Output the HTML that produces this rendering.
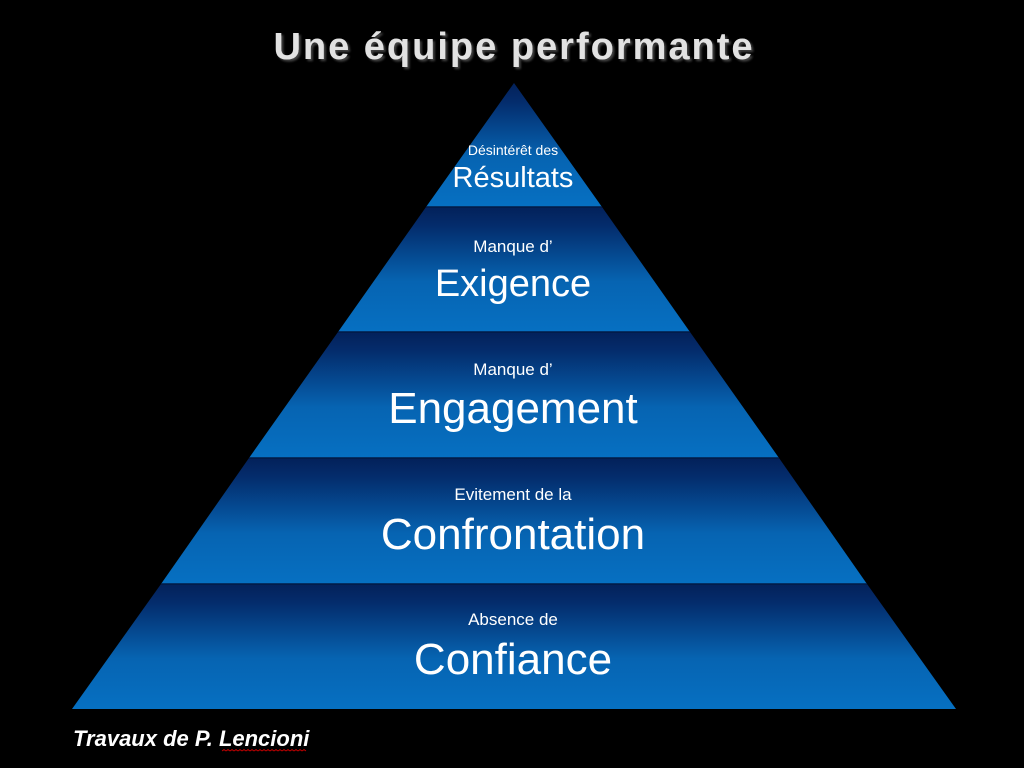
<!DOCTYPE html>
<html><head><meta charset="utf-8"><style>
html,body{margin:0;padding:0;background:#000;}
svg{display:block}
</style></head><body>
<svg width="1024" height="768" viewBox="0 0 1024 768" xmlns="http://www.w3.org/2000/svg">
<defs>
<linearGradient id="g" x1="0" y1="0" x2="0" y2="1">
<stop offset="0" stop-color="#03215a"/>
<stop offset="0.15" stop-color="#042c6c"/>
<stop offset="0.6" stop-color="#0664b2"/>
<stop offset="1" stop-color="#0670c2"/>
</linearGradient>
<filter id="sh"><feDropShadow dx="2" dy="2" stdDeviation="1" flood-color="#444"/></filter>
</defs>
<rect width="1024" height="768" fill="#000"/>
<text x="514" y="59" text-anchor="middle" font-family="Liberation Sans, sans-serif" font-weight="bold" font-size="38" letter-spacing="2" fill="#e2e2e2" filter="url(#sh)">Une équipe performante</text>
<polygon points="514,83 602,207 426,207" fill="url(#g)"/>
<polygon points="426,207 602,207 690,332 338,332" fill="url(#g)"/>
<polygon points="338,332 690,332 779,458 249,458" fill="url(#g)"/>
<polygon points="249,458 779,458 867,584 161,584" fill="url(#g)"/>
<polygon points="161,584 867,584 956,709 72,709" fill="url(#g)"/>
<g stroke="#021a45" stroke-width="1.5">
<line x1="426" y1="207" x2="602" y2="207"/>
<line x1="338" y1="332" x2="690" y2="332"/>
<line x1="249" y1="458" x2="779" y2="458"/>
<line x1="161" y1="584" x2="867" y2="584"/>
</g>
<g font-family="Liberation Sans, sans-serif" fill="#fff" text-anchor="middle">
<text x="513" y="155" font-size="14">Désintérêt des</text>
<text x="513" y="187" font-size="29">Résultats</text>
<text x="513" y="252" font-size="17">Manque d’</text>
<text x="513" y="296" font-size="38">Exigence</text>
<text x="513" y="375" font-size="17">Manque d’</text>
<text x="513" y="423" font-size="44">Engagement</text>
<text x="513" y="500" font-size="17">Evitement de la</text>
<text x="513" y="549" font-size="44">Confrontation</text>
<text x="513" y="625" font-size="17">Absence de</text>
<text x="513" y="674" font-size="44">Confiance</text>
</g>
<text x="73" y="746" font-family="Liberation Sans, sans-serif" font-weight="bold" font-style="italic" font-size="22" fill="#fff">Travaux de P. Lencioni</text>
<path d="M222 751 l2 -1.5 l2 1.5 l2 -1.5 l2 1.5 l2 -1.5 l2 1.5 l2 -1.5 l2 1.5 l2 -1.5 l2 1.5 l2 -1.5 l2 1.5 l2 -1.5 l2 1.5 l2 -1.5 l2 1.5 l2 -1.5 l2 1.5 l2 -1.5 l2 1.5 l2 -1.5 l2 1.5 l2 -1.5 l2 1.5 l2 -1.5 l2 1.5 l2 -1.5 l2 1.5 l2 -1.5 l2 1.5 l2 -1.5 l2 1.5 l2 -1.5 l2 1.5 l2 -1.5 l2 1.5 l2 -1.5 l2 1.5 l2 -1.5 l2 1.5 l2 -1.5 l2 1.5" stroke="#c00" stroke-width="0.8" fill="none"/>
</svg>
</body></html>
